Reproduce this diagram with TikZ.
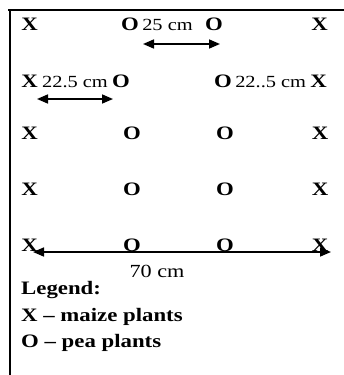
\documentclass[tikz,border=0pt]{standalone}
\usepackage{fontspec}
\setmainfont{Liberation Serif}[FakeStretch=1.2]
\usetikzlibrary{arrows.meta, positioning}

\begin{document}
\begin{tikzpicture}[x=1pt, y=-1pt, >={Triangle[length=11pt, width=9pt]},
    plant/.style={font=\bfseries\fontsize{19}{21}\selectfont, inner sep=0pt, anchor=base},
    dist/.style={font=\fontsize{17}{19}\selectfont, inner sep=0pt, anchor=base west},
    legendline/.style={font=\bfseries\fontsize{19}{21}\selectfont, inner sep=0pt, anchor=base west},
    dimline/.style={<->, line width=1.6pt}]
    \useasboundingbox (0,0) rectangle (344,375);

    % Khung (chỉ cạnh trên và cạnh trái)
    \draw[line width=2.4pt] (8,10) -- (344,10);
    \draw[line width=2.4pt] (10,9) -- (10,375);

    % Hàng 1
    \node[plant] (x1a) at (29.5,30) {X};
    \node[plant] (o1a) at (130,30) {O};
    \node[plant] (o1b) at (214,30) {O};
    \node[plant] (x1b) at (319.5,30) {X};
    \node[dist] (d25) at ([xshift=3pt]o1a.base east) {25 cm};

    % Hàng 2
    \node[plant] (x2a) at (29.5,87) {X};
    \node[plant] (o2a) at (121,87) {O};
    \node[plant] (o2b) at (223,87) {O};
    \node[plant] (x2b) at (318.5,87) {X};
    \node[dist] (d225a) at ([xshift=4pt]x2a.base east) {22.5 cm};
    \node[dist] (d225b) at ([xshift=3pt]o2b.base east) {22..5 cm};

    % Hàng 3 -- 5
    \foreach \r/\y in {3/139, 4/195, 5/251} {
        \node[plant] (x\r a) at (29.5,\y) {X};
        \node[plant] (o\r a) at (132,\y) {O};
        \node[plant] (o\r b) at (225,\y) {O};
        \node[plant] (x\r b) at (320,\y) {X};
    }

    % Mũi tên khoảng cách
    \coordinate (a1l) at (143,44);
    \coordinate (a1r) at (220,44);
    \coordinate (a2l) at (37,99);
    \coordinate (a2r) at (113,99);
    \coordinate (a3l) at (33,252);
    \coordinate (a3r) at (331,252);
    \draw[dimline] (a1l) -- (a1r);
    \draw[dimline] (a2l) -- (a2r);
    \draw[dimline] (a3l) -- (a3r);
    \node[font=\fontsize{18.5}{20}\selectfont, inner sep=0pt, anchor=base] (d70) at (157,277) {70 cm};

    % Chú thích
    \node[legendline] (leg) at (21,294) {Legend:};
    \node[legendline] (legx) at (21,321) {X – maize plants};
    \node[legendline] (lego) at (21,347) {O – pea plants};
\end{tikzpicture}
\end{document}
